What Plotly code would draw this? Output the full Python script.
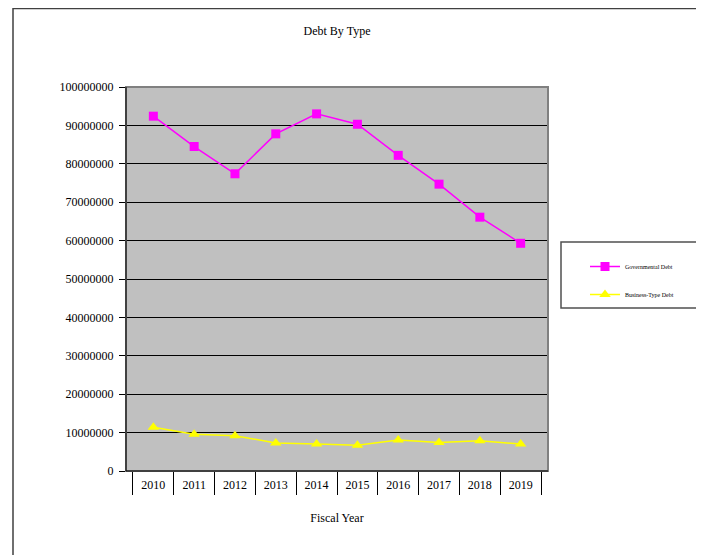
import plotly.graph_objects as go

# anos fiscais e valores da divida
anos = ["2010", "2011", "2012", "2013", "2014", "2015", "2016", "2017", "2018", "2019"]
divida_gov = [92400000, 84500000, 77400000, 87800000, 93000000,
              90300000, 82200000, 74700000, 66100000, 59300000]
divida_empresa = [11400000, 9600000, 9200000, 7300000, 7000000,
                  6700000, 8100000, 7400000, 7900000, 7000000]

fonte = "Liberation Serif, Times New Roman, serif"

fig = go.Figure()
fig.add_trace(go.Scatter(x=anos, y=divida_gov, name="Governmental Debt", mode="lines+markers",
                         line=dict(color="#FF00FF", width=1.5),
                         marker=dict(symbol="square", size=9, color="#FF00FF"),
                         legendgroup="a"))
fig.add_trace(go.Scatter(x=anos, y=divida_empresa, name="Business-Type Debt", mode="lines+markers",
                         line=dict(color="#FFFF00", width=1.5),
                         marker=dict(symbol="triangle-up", size=10, color="#FFFF00"),
                         legendgroup="b"))

# a pagina tem 8px de margem no body
OFF = 8
W, H = 704, 555
L, T = 126 - OFF, 87 - OFF
R = W - (548 - OFF)
B = H - (471 - OFF)
pw, ph = W - L - R, H - T - B


def px(x):
    return (x - OFF - L) / pw


def py(y):
    return (H - B - (y - OFF)) / ph


fig.update_layout(
    width=W, height=H,
    margin=dict(l=L, r=R, t=T, b=B),
    paper_bgcolor="white", plot_bgcolor="#C0C0C0",
    font=dict(family=fonte, size=12, color="black"),
    title=dict(text="Debt By Type", x=(L + pw / 2) / W, xanchor="center", y=1 - (31 - OFF) / H,
               yanchor="middle", font=dict(size=12)),
    showlegend=True,
    legend=dict(x=px(585), xanchor="left", y=py(252), yanchor="top",
                borderwidth=0, bgcolor="rgba(0,0,0,0)",
                font=dict(size=6), tracegroupgap=9, itemwidth=30),
)
fig.update_xaxes(type="category", showgrid=False, showline=True, linecolor="black", linewidth=1,
                 ticks="outside", tickson="boundaries", ticklen=23, tickcolor="black", tickwidth=1,
                 ticklabelstandoff=3,
                 title=dict(text="Fiscal Year", font=dict(size=12), standoff=22))
fig.update_yaxes(range=[0, 100000000], dtick=10000000, tickformat="d",
                 showgrid=True, gridcolor="black", gridwidth=1, zeroline=False,
                 showline=True, linecolor="black", linewidth=1,
                 ticks="outside", ticklen=6, tickcolor="black", ticklabelstandoff=3)

# moldura da area do grafico
fig.add_shape(type="rect", xref="paper", yref="paper", x0=0, y0=0, x1=1, y1=1,
              line=dict(color="#808080", width=2), layer="above")
fig.add_shape(type="line", xref="paper", yref="paper", x0=0, y0=0, x1=0, y1=1,
              line=dict(color="black", width=1), layer="above")
fig.add_shape(type="line", xref="paper", yref="paper", x0=0, y0=0, x1=1, y1=0,
              line=dict(color="black", width=1), layer="above")
# caixa da legenda
fig.add_shape(type="rect", xref="paper", yref="paper", x0=px(561), x1=px(703), y0=py(308), y1=py(242),
              line=dict(color="#505050", width=1.5), layer="above")
# moldura externa
fig.add_shape(type="rect", xref="paper", yref="paper", x0=px(13), x1=px(720), y0=py(575), y1=py(8.5),
              line=dict(color="#404040", width=1.5), layer="above")

fig.write_html("out.html")
